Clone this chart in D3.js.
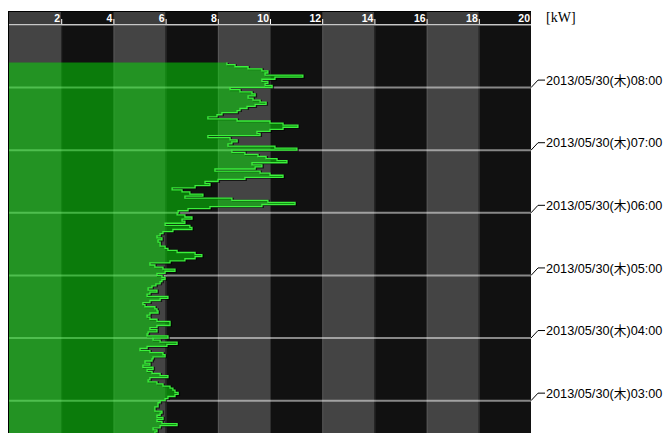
<!DOCTYPE html>
<html>
<head>
<meta charset="utf-8">
<script src="https://cdn.jsdelivr.net/npm/d3@7"></script>
<style>
  html, body { margin: 0; padding: 0; background: #fff; }
  svg { display: block; }
</style>
</head>
<body>
<svg id="chart" width="667" height="433"></svg>
<script>
// Power demand [kW] on 2013/05/30, 2-minute samples, oldest first.
const day = "2013-05-30";
const sampleStep = 2; // minutes
const h02Start = "02:28";
const h02 = [5.59, 5.67, 5.52, 5.79, 6.44, 5.86, 5.67, 5.90, 5.67, 5.79, 5.86, 5.59, 5.59, 5.71, 5.71, 5.79];
const h03 = [5.98, 6.09, 6.36, 6.48, 6.36, 6.28, 6.17, 5.90, 5.67, 5.33, 5.40, 6.09, 5.79, 5.48, 5.29, 5.52, 5.13, 5.40, 5.21, 5.48, 5.52, 5.98, 5.90, 5.40, 5.02, 5.29, 6.05, 6.44, 5.79, 5.52];
const h04 = [6.09, 5.29, 5.33, 5.67, 5.40, 5.67, 6.17, 6.17, 5.67, 5.40, 5.29, 5.40, 5.71, 5.67, 5.59, 5.21, 5.13, 5.40, 5.79, 6.09, 5.29, 5.40, 5.67, 5.33, 5.48, 5.63, 5.79, 5.86, 5.98, 5.86];
const h05 = [5.67, 5.98, 6.36, 5.90, 5.59, 5.40, 6.17, 6.74, 7.13, 7.39, 7.13, 6.44, 6.09, 5.98, 5.79, 5.79, 5.71, 5.86, 5.67, 5.79, 5.90, 6.28, 7.01, 6.93, 5.98, 6.74, 6.63, 7.01, 6.74, 6.44];
const h06 = [6.48, 6.86, 7.70, 9.69, 10.96, 9.92, 8.54, 6.74, 7.43, 6.93, 6.63, 6.25, 7.13, 7.70, 7.51, 8.01, 9.04, 10.50, 10.0, 9.62, 7.89, 9.43, 9.69, 9.31, 10.65, 10.27, 9.85, 9.54, 9.04, 8.54];
const h07 = [11.03, 10.19, 8.39, 8.54, 8.74, 8.47, 7.62, 9.62, 9.50, 10.0, 10.50, 11.07, 10.50, 10.0, 8.74, 7.62, 7.97, 8.16, 8.74, 8.85, 9.12, 9.43, 9.85, 9.62, 9.35, 9.16, 9.43, 9.31, 8.85, 8.47];
const h08 = [10.08, 9.81, 9.92, 9.69, 10.19, 11.26, 9.81, 9.92, 9.69, 9.16, 8.66, 8.35];

const kwTicks = [2, 4, 6, 8, 10, 12, 14, 16, 18, 20];
const hourTimes = ["03:00", "04:00", "05:00", "06:00", "07:00", "08:00"];
const hourLabels = hourTimes.map(h => "2013/05/30(木)" + h);
const unitLabel = "[kW]";

const parse = d3.timeParse("%Y-%m-%d %H:%M");
const at = hm => parse(day + " " + hm);

// Build the time series from the hourly blocks
const blocks = [
  [h02Start, h02], ["03:00", h03], ["04:00", h04], ["05:00", h05],
  ["06:00", h06], ["07:00", h07], ["08:00", h08]
];
const series = [];
blocks.forEach(([start, vals]) => {
  const t0 = at(start);
  vals.forEach((v, i) => series.push({ t: d3.timeMinute.offset(t0, i * sampleStep), v }));
});
// hold the last sample to the end of its interval
const last = series[series.length - 1];
series.push({ t: d3.timeMinute.offset(last.t, sampleStep), v: last.v });

const svg = d3.select("#chart");
const plot = { left: 9, right: 531, top: 26, bottom: 433 };

const x = d3.scaleLinear().domain([0, 20]).range([plot.left, plot.right]);
const y = d3.scaleTime().domain([at("02:29"), at("09:00")]).range([433, 25]);

// dark frame behind header and plot
svg.append("rect")
  .attr("x", plot.left - 1).attr("y", 11)
  .attr("width", plot.right - plot.left + 1).attr("height", 433 - 11)
  .attr("fill", "#000");

const bandStarts = d3.range(0, 20, 2);

// header bands
svg.append("g").selectAll("rect").data(bandStarts).join("rect")
  .attr("x", d => x(d)).attr("y", 12)
  .attr("width", d => x(d + 2) - x(d)).attr("height", 12)
  .attr("fill", (d, i) => i % 2 === 0 ? "#3e3e3e" : "#101010");

// plot column bands
svg.append("g").selectAll("rect").data(bandStarts).join("rect")
  .attr("x", d => x(d)).attr("y", plot.top)
  .attr("width", d => x(d + 2) - x(d)).attr("height", plot.bottom - plot.top)
  .attr("fill", (d, i) => i % 2 === 0 ? "#444444" : "#111111");

// faint band separators
svg.append("g").selectAll("line").data(kwTicks.slice(0, -1)).join("line")
  .attr("x1", d => x(d) + 0.5).attr("x2", d => x(d) + 0.5)
  .attr("y1", plot.top).attr("y2", plot.bottom)
  .attr("stroke", "rgba(255,255,255,0.13)").attr("stroke-width", 1);

// header baseline
svg.append("line")
  .attr("x1", plot.left).attr("x2", plot.right)
  .attr("y1", 24.8).attr("y2", 24.8)
  .attr("stroke", "#c8c8c8").attr("stroke-width", 1.5);

// top kW axis
const axis = svg.append("g")
  .attr("transform", "translate(0,24)")
  .call(d3.axisTop(x).tickValues(kwTicks).tickSize(5).tickFormat(d3.format("d")));
axis.select(".domain").remove();
axis.selectAll(".tick line").attr("stroke", "#fff").attr("stroke-width", 1);
axis.selectAll(".tick text")
  .attr("fill", "#fff")
  .attr("text-anchor", "end")
  .attr("x", -1.5).attr("y", -2).attr("dy", 0)
  .style("font-family", "'Liberation Sans', Arial, sans-serif")
  .style("font-size", "10.5px")
  .style("font-weight", "bold");

// hour grid lines
svg.append("g").selectAll("line").data(hourTimes).join("line")
  .attr("x1", plot.left).attr("x2", plot.right)
  .attr("y1", d => y(at(d))).attr("y2", d => y(at(d)))
  .attr("stroke", "rgba(255,255,255,0.5)").attr("stroke-width", 2);

// clip to plot area
svg.append("clipPath").attr("id", "plotClip")
  .append("rect")
  .attr("x", plot.left).attr("y", plot.top)
  .attr("width", plot.right - plot.left).attr("height", plot.bottom - plot.top);

const area = d3.area()
  .y(d => y(d.t))
  .x0(x(0))
  .x1(d => x(d.v))
  .curve(d3.curveStepBefore);

const edge = d3.line()
  .y(d => y(d.t))
  .x(d => x(d.v))
  .curve(d3.curveStepBefore);

const g = svg.append("g").attr("clip-path", "url(#plotClip)");

// dark shadow along the load edge
g.append("path").datum(series)
  .attr("d", edge)
  .attr("fill", "none")
  .attr("stroke", "rgba(0,0,0,0.65)")
  .attr("stroke-width", 2)
  .attr("transform", "translate(1,0.5)");

g.append("path").datum(series)
  .attr("d", area)
  .attr("fill", "rgba(6,217,6,0.53)");

// bright edge of the load profile
g.append("path").datum(series)
  .attr("d", edge)
  .attr("fill", "none")
  .attr("stroke", "#3cf03c")
  .attr("stroke-width", 1.3);

// hour labels with leader ticks
const lab = svg.append("g").selectAll("g").data(hourTimes).join("g")
  .attr("transform", d => `translate(0,${y(at(d))})`);
lab.append("path")
  .attr("d", `M${plot.right},0 L${plot.right + 7},-7.5 L${plot.right + 14},-7.5`)
  .attr("fill", "none").attr("stroke", "#000").attr("stroke-width", 1);
lab.append("text")
  .attr("x", plot.right + 15).attr("y", -7.5).attr("dy", "0.36em")
  .attr("fill", "#000")
  .style("font-family", "'Liberation Sans', 'Noto Sans CJK JP', sans-serif")
  .style("font-size", "12.7px")
  .text((d, i) => hourLabels[i]);

// unit label
svg.append("text")
  .attr("x", 546).attr("y", 22)
  .attr("fill", "#000")
  .style("font-family", "'Liberation Serif', 'Times New Roman', serif")
  .style("font-size", "14px")
  .text(unitLabel);
</script>
</body>
</html>
